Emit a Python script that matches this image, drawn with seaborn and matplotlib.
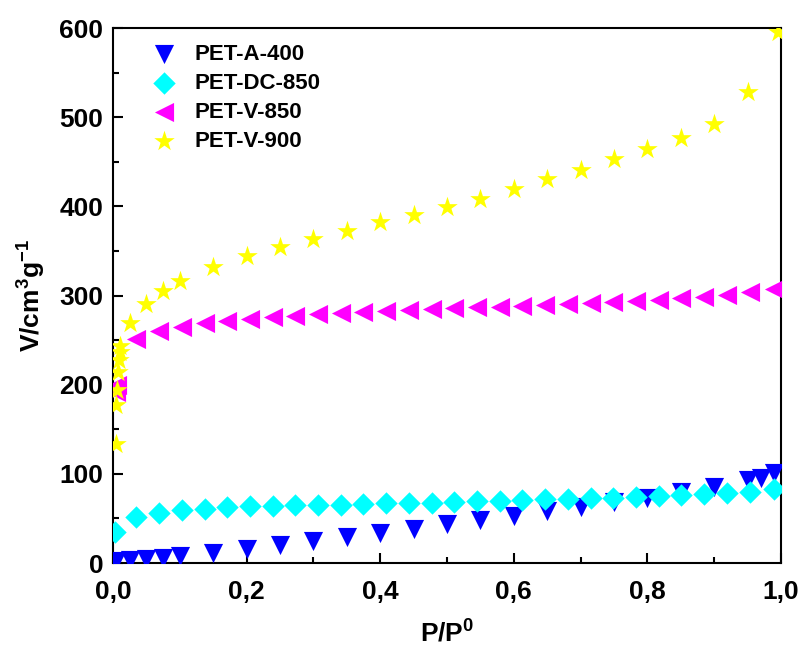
import matplotlib
matplotlib.use("Agg")
import matplotlib.pyplot as plt
import seaborn as sns
import pandas as pd
from matplotlib.ticker import FixedLocator, FixedFormatter, MultipleLocator

# ---------------- data ----------------
a400_x = [0.004, 0.025, 0.05, 0.075, 0.10, 0.15, 0.20, 0.25, 0.30, 0.35, 0.40, 0.45,
          0.50, 0.55, 0.60, 0.65, 0.70, 0.75, 0.80, 0.85, 0.90, 0.95, 0.97, 0.99]
a400_y = [2, 3, 4, 5.5, 8, 11, 16, 20, 25, 29.5, 34, 38.5,
          43.5, 48, 53, 58, 63, 68, 73, 80, 85.5, 93, 95, 101]

grid_x = [0.003, 0.035, 0.069, 0.103, 0.137, 0.171, 0.205, 0.239, 0.273, 0.307,
          0.341, 0.375, 0.409, 0.443, 0.477, 0.511, 0.545, 0.579, 0.613, 0.647,
          0.681, 0.715, 0.749, 0.783, 0.817, 0.851, 0.885, 0.919, 0.953, 0.990]
dc850_y = [35, 52, 56, 59, 61, 62.5, 63.5, 64.5, 65, 65,
           65, 66.4, 67.3, 67.3, 67.3, 68.6, 69.5, 69.5, 70.6, 71.7,
           71.7, 72.8, 72.8, 74, 75, 76, 77, 78.5, 80, 83]

v850_x = [0.004, 0.006] + grid_x[1:]
v850_y = [192, 200,
          251, 260, 265, 268.7, 271.6, 273.5, 275.4, 277.2, 279.1, 279.9,
          281, 282.5, 283.6, 284.7, 286, 286.7, 287.4, 288.5, 289.6, 290.4,
          291.1, 292.3, 293.7, 294.8, 296.7, 298.5, 300.8, 303.5, 306.8]

v900_x = [0.004, 0.005, 0.006, 0.007, 0.009, 0.010, 0.011, 0.025, 0.05, 0.075,
          0.10, 0.15, 0.20, 0.25, 0.30, 0.35, 0.40, 0.45, 0.50, 0.55,
          0.60, 0.65, 0.70, 0.75, 0.80, 0.85, 0.90, 0.95, 0.995]
v900_y = [133, 177, 194, 214, 228, 237, 243, 269, 291, 305,
          316, 331.5, 344, 354.6, 363, 372, 382, 390, 399.4, 408.8,
          419.3, 430.2, 441, 452.6, 464.1, 476.1, 492.2, 528.4, 595]

labels = ["PET-A-400", "PET-DC-850", "PET-V-850", "PET-V-900"]
colors = ["#0000FF", "#00FFFF", "#FF00FF", "#FFFF00"]
markers = ["v", "D", "<", "*"]
sizes = [190, 130, 190, 240]

xticks = [0.0, 0.2, 0.4, 0.6, 0.8, 1.0]
xtick_labels = ["0,0", "0,2", "0,4", "0,6", "0,8", "1,0"]
yticks = [0, 100, 200, 300, 400, 500, 600]
ytick_labels = ["0", "100", "200", "300", "400", "500", "600"]

# ---------------- plot ----------------
sns.set_style("ticks")
plt.rcParams["font.family"] = ["Liberation Sans", "DejaVu Sans"]
plt.rcParams["font.weight"] = "bold"
plt.rcParams["text.color"] = "black"
plt.rcParams["axes.labelcolor"] = "black"
plt.rcParams["xtick.color"] = "black"
plt.rcParams["ytick.color"] = "black"
plt.rcParams["mathtext.fontset"] = "custom"
plt.rcParams["mathtext.rm"] = "Liberation Sans:bold"
plt.rcParams["mathtext.bf"] = "Liberation Sans:bold"
plt.rcParams["mathtext.it"] = "Liberation Sans:bold"

fig = plt.figure(figsize=(8.03, 6.47), dpi=100)
ax = fig.add_axes([0.1407, 0.1298, 0.8319, 0.8269])

series = [(a400_x, a400_y), (grid_x, dc850_y), (v850_x, v850_y), (v900_x, v900_y)]
for (xs, ys), lab, c, m, s in zip(series, labels, colors, markers, sizes):
    df = pd.DataFrame({"x": xs, "y": ys})
    sns.scatterplot(data=df, x="x", y="y", ax=ax, marker=m, color=c, s=s,
                    linewidth=0, label=lab, zorder=3)

ax.set_xlim(0, 1.0)
ax.set_ylim(0, 600)
ax.xaxis.set_major_locator(FixedLocator(xticks))
ax.xaxis.set_major_formatter(FixedFormatter(xtick_labels))
ax.xaxis.set_minor_locator(MultipleLocator(0.1))
ax.yaxis.set_major_locator(FixedLocator(yticks))
ax.yaxis.set_major_formatter(FixedFormatter(ytick_labels))
ax.yaxis.set_minor_locator(MultipleLocator(50))

ax.tick_params(axis="both", which="major", direction="in", length=7, width=1.5,
               labelsize=19, top=False, right=False, colors="black")
ax.tick_params(axis="x", which="major", pad=12)
ax.tick_params(axis="y", which="major", pad=7)
ax.tick_params(axis="both", which="minor", direction="in", length=4, width=1.5,
               top=False, right=False, colors="black")
for lbl in ax.get_xticklabels() + ax.get_yticklabels():
    lbl.set_fontweight("bold")

for sp in ax.spines.values():
    sp.set_visible(True)
    sp.set_linewidth(1.5)
    sp.set_color("black")

ax.set_xlabel(r"$\mathbf{P/P^0}$", fontsize=19, labelpad=12, color="black")
ax.set_ylabel(r"$\mathbf{V/cm^3g^{-1}}$", fontsize=19, labelpad=8, color="black")

leg = ax.legend(loc="upper left", bbox_to_anchor=(0.035, 0.995), frameon=False,
                fontsize=16, handletextpad=0.7, labelspacing=0.36,
                handlelength=1.3, borderaxespad=0.2)
for t in leg.get_texts():
    t.set_fontweight("bold")
    t.set_color("black")

fig.savefig("out.png", dpi=100)
